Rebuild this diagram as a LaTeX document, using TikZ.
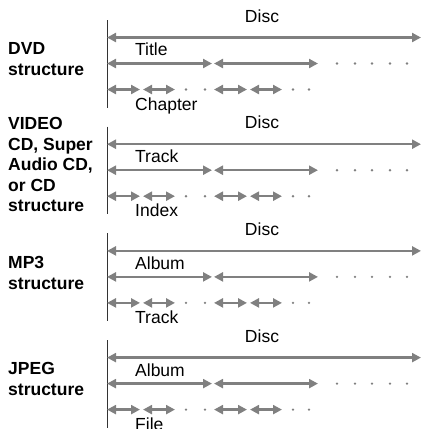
\documentclass[tikz,border=0pt]{standalone}
\usepackage{fontspec}
\setmainfont{Liberation Sans}
\usetikzlibrary{arrows.meta}
\definecolor{spangray}{RGB}{128,128,128}
\begin{document}
\begin{tikzpicture}[x=1bp, y=-1bp,
    font=\fontsize{17.5bp}{20.5bp}\selectfont,
    span/.style={draw=spangray, line width=2.5bp, >={Triangle[length=9bp,width=9bp]}, <->},
    gap/.style={circle, fill=spangray, inner sep=0pt, minimum size=2.6bp},
    lab/.style={inner sep=0pt, anchor=base},
    sublab/.style={inner sep=0pt, anchor=base west},
    head/.style={inner sep=0pt, anchor=north west, align=left, font=\fontsize{17.5bp}{20.5bp}\selectfont\bfseries},
    axis/.style={line width=1bp, draw=black!80}]
  \useasboundingbox (0,0) rectangle (422,429);
  % shared scale of every block
  \foreach \d in {37.5,144.2,250.9,357.6} {
    \begin{scope}[shift={(0,\d)}]
      \draw[axis] (107,-17.5) -- (107,70);
      \draw[span] (107,0) -- (421,0);
      \draw[span] (107,26) -- (212,26);
      \draw[span] (214,26) -- (318,26);
      \foreach \x in {337,355,372,390,407} \node[gap] at (\x,26) {};
      \draw[span] (107,52) -- (140,52);
      \draw[span] (143,52) -- (175,52);
      \draw[span] (214,52) -- (247,52);
      \draw[span] (250,52) -- (282,52);
      \foreach \x in {186,205,293,309} \node[gap] at (\x,52) {};
    \end{scope}
  }
  % DVD
  \node[head] (dvd) at (8,42.4) {DVD\\structure};
  \node[lab] (disc1) at (262,22) {Disc};
  \node[sublab] (title) at (135,55.5) {Title};
  \node[sublab] (chapter) at (135,110) {Chapter};
  % VIDEO CD
  \node[head] (vcd) at (8,117.4) {VIDEO\\CD, Super\\Audio CD,\\or CD\\structure};
  \node[lab] (disc2) at (262,128.7) {Disc};
  \node[sublab] (track2) at (135,162.5) {Track};
  \node[sublab] (index) at (135,216.5) {Index};
  % MP3
  \node[head] (mp3) at (8,256.4) {MP3\\structure};
  \node[lab] (disc3) at (262,235.4) {Disc};
  \node[sublab] (album3) at (135,269.5) {Album};
  \node[sublab] (track3) at (135,323.5) {Track};
  % JPEG
  \node[head] (jpeg) at (8,362.4) {JPEG\\structure};
  \node[lab] (disc4) at (262,342.1) {Disc};
  \node[sublab] (album4) at (135,376) {Album};
  \node[sublab] (file) at (135,430) {File};
\end{tikzpicture}
\end{document}
